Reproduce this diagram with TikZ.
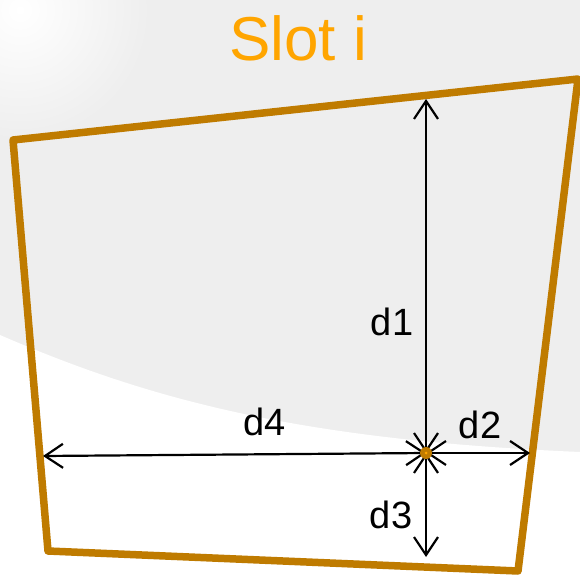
\documentclass[tikz,border=0pt]{standalone}
\usepackage{fontspec}
\setmainfont{Liberation Sans}
\usetikzlibrary{arrows.meta, positioning}
\definecolor{slotframe}{HTML}{BF7B00}
\definecolor{slotorange}{HTML}{FFA500}
\definecolor{bggray}{HTML}{EEEEEE}

\begin{document}
\begin{tikzpicture}[x=1pt, y=-1pt,
    frame/.style={draw=slotframe, line width=7.5pt, line join=round},
    dim/.style={line width=2.2pt, {Straight Barb[length=18pt,width=24pt]}-{Straight Barb[length=18pt,width=24pt]}},
    dimlabel/.style={font=\fontsize{38}{40}\selectfont, inner sep=0pt}]
    \useasboundingbox (0,0) rectangle (580,577);
    \clip (0,0) rectangle (580,577);
    \fill[bggray] (0,0) rectangle (580,577);
    \shade[inner color=white, outer color=bggray] (20,10) circle (130);
    \fill[white] (0,335) .. controls (150,400) and (300,440) .. (580,452) -- (580,577) -- (0,577) -- cycle;

    \coordinate (tl) at (13,140);
    \coordinate (tr) at (578,79);
    \coordinate (br) at (518,571);
    \coordinate (bl) at (48,551);
    \draw[frame] (tl) -- (tr) -- (br) -- (bl) -- cycle;

    \node (title) [text=slotorange, font=\fontsize{62}{64}\selectfont, inner sep=0pt] at (298,38) {Slot i};

    \coordinate (p) at (426,453);
    \coordinate (top) at (426,99);
    \coordinate (right) at (530,453);
    \coordinate (bottom) at (426,557);
    \coordinate (left) at (43,456);

    \draw[dim] (p) -- (top);
    \draw[dim] (p) -- (right);
    \draw[dim] (p) -- (bottom);
    \draw[dim] (p) -- (left);
    \node (dot) [circle, fill=slotframe, minimum size=12pt, inner sep=0pt] at (p) {};
    \fill[slotorange] (dot.center) circle (1.5);

    \node (d1) [dimlabel] at (392,322) {d1};
    \node (d2) [dimlabel] at (480,425) {d2};
    \node (d3) [dimlabel] at (391,515) {d3};
    \node (d4) [dimlabel] at (265,422) {d4};
\end{tikzpicture}
\end{document}
